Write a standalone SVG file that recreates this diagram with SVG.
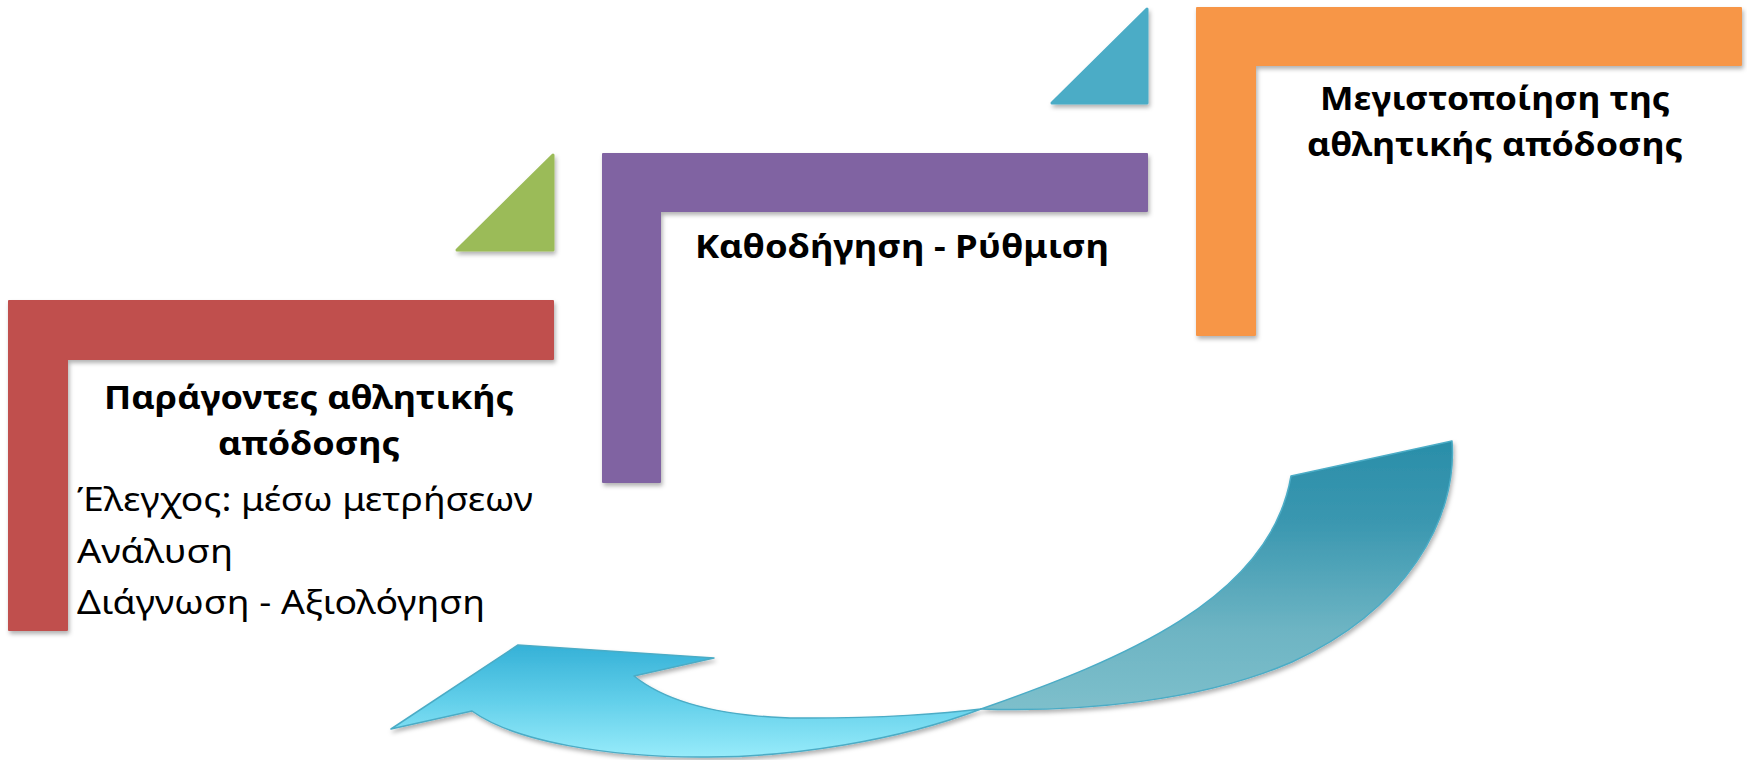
<svg xmlns="http://www.w3.org/2000/svg" width="1747" height="760" viewBox="0 0 1747 760">
<defs>
<style>
.t{font-family:"Noto Sans","Open Sans","DejaVu Sans",sans-serif;font-size:32px;fill:#000}
.b{font-weight:bold}
.sh{filter:url(#ds)}
</style>
<filter id="ds" x="-10%" y="-10%" width="130%" height="130%">
<feDropShadow dx="1.5" dy="3" stdDeviation="2" flood-color="#000" flood-opacity="0.3"/>
</filter>
<linearGradient id="gBack" x1="0" y1="0" x2="0" y2="1">
<stop offset="0" stop-color="#2A8EA9"/>
<stop offset="0.3" stop-color="#3A97B0"/>
<stop offset="0.7" stop-color="#6DB4C3"/>
<stop offset="1" stop-color="#7DBFCB"/>
</linearGradient>
<linearGradient id="gFront" x1="0" y1="0" x2="0" y2="1">
<stop offset="0" stop-color="#35B1D7"/>
<stop offset="0.5" stop-color="#62CFEA"/>
<stop offset="1" stop-color="#97EBFA"/>
</linearGradient>
</defs>
<rect width="1747" height="760" fill="#fff"/>
<g id="node-red">
<path class="sh" d="M9,301 H553 V359 H67 V630 H9 Z" fill="#C0504D" stroke="#C0504D" stroke-width="2" stroke-linejoin="round"/>
<text class="t b" x="309" y="409" text-anchor="middle" textLength="410" lengthAdjust="spacingAndGlyphs">Παράγοντες αθλητικής</text>
<text class="t b" x="309" y="455" text-anchor="middle" textLength="182" lengthAdjust="spacingAndGlyphs">απόδοσης</text>
<text class="t" x="77" y="511" textLength="456" lengthAdjust="spacingAndGlyphs">Έλεγχος: μέσω μετρήσεων</text>
<text class="t" x="77" y="563" textLength="156" lengthAdjust="spacingAndGlyphs">Ανάλυση</text>
<text class="t" x="77" y="614" textLength="408" lengthAdjust="spacingAndGlyphs">Διάγνωση - Αξιολόγηση</text>
</g>
<g id="node-green-triangle" class="sh">
<path d="M553,155 V250 H457 Z" fill="#9BBB59" stroke="#9BBB59" stroke-width="3" stroke-linejoin="round"/>
</g>
<g id="node-purple">
<path class="sh" d="M603,154 H1147 V211 H660 V482 H603 Z" fill="#8064A2" stroke="#8064A2" stroke-width="2" stroke-linejoin="round"/>
<text class="t b" x="902" y="258" text-anchor="middle" textLength="414" lengthAdjust="spacingAndGlyphs">Καθοδήγηση - Ρύθμιση</text>
</g>
<g id="node-blue-triangle" class="sh">
<path d="M1147,9 V103 H1052 Z" fill="#4BACC6" stroke="#4BACC6" stroke-width="3" stroke-linejoin="round"/>
</g>
<g id="node-orange">
<path class="sh" d="M1197,8 H1741 V65 H1255 V335 H1197 Z" fill="#F79646" stroke="#F79646" stroke-width="2" stroke-linejoin="round"/>
<text class="t b" x="1495" y="110" text-anchor="middle" textLength="350" lengthAdjust="spacingAndGlyphs">Μεγιστοποίηση της</text>
<text class="t b" x="1495" y="156" text-anchor="middle" textLength="376" lengthAdjust="spacingAndGlyphs">αθλητικής απόδοσης</text>
</g>
<g id="connectors" class="sh">
<path d="M1452,441 C1458,520 1405,610 1292,662 C1200,702 1080,712 981,709 C1120,660 1270,600 1291,476 Z" fill="url(#gBack)" stroke="#4BACC6" stroke-width="1.5" stroke-linejoin="round"/>
<path d="M981,709 C900,740 790,758 700,757 C610,757 515,742 472,711 L391,729 L518,645 L714,658 L634,676 C670,705 730,716 790,718 C880,719 950,713 981,709 Z" fill="url(#gFront)" stroke="#4BACC6" stroke-width="1.5" stroke-linejoin="round"/>
</g>
</svg>
